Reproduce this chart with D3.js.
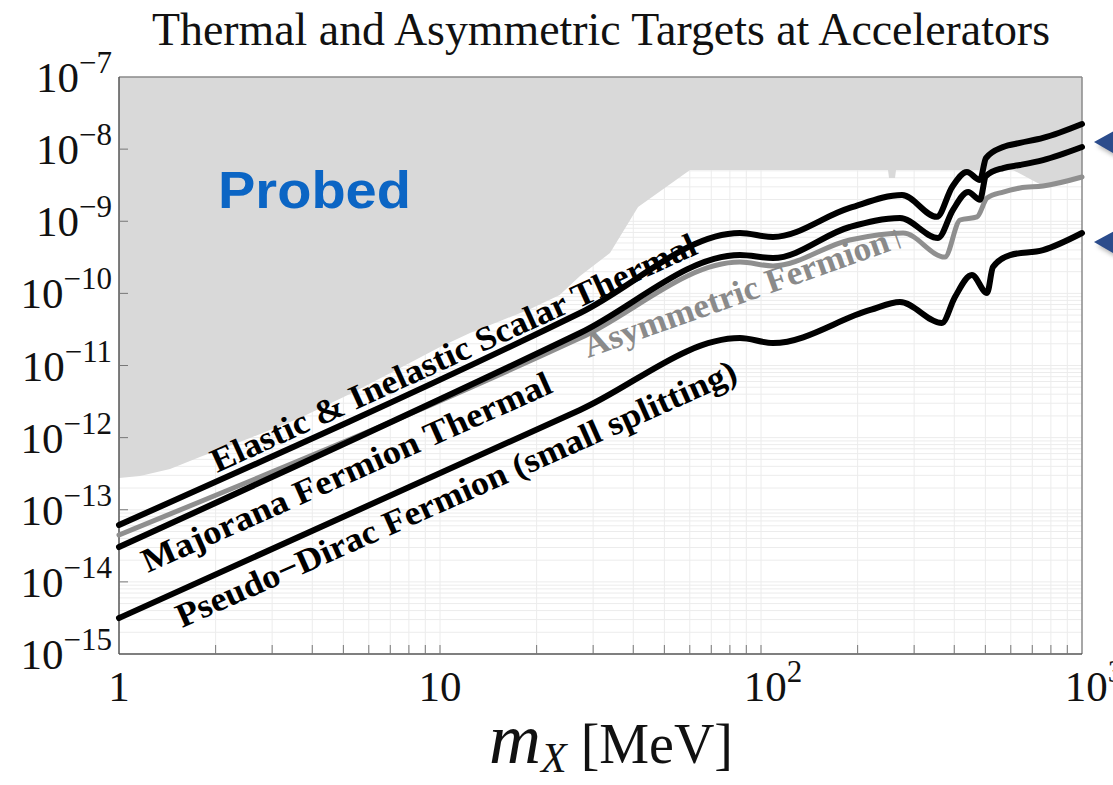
<!DOCTYPE html>
<html><head><meta charset="utf-8">
<script src="https://cdn.jsdelivr.net/npm/d3@7"></script>
<style>body{margin:0;background:#fff}svg{display:block}</style>
</head><body>
<svg id="c" width="1113" height="785"></svg>
<script>
// ---------- data ----------
const title = "Thermal and Asymmetric Targets at Accelerators";
const xTickValues = [1, 10, 100, 1000];
const xTickBase = ["1", "10", "10", "10"];
const xTickSup = ["", "", "2", "3"];
const yTickExps = [-7, -8, -9, -10, -11, -12, -13, -14, -15];

const scalarMass = [1, 27.3, 86, 109, 189, 275, 353, 394, 438, 481, 502, 568, 641, 756, 1000];
const scalarThermal = [6.15e-14, 5.35e-11, 6.87e-10, 6.05e-10, 1.53e-9, 2.31e-9, 1.15e-9, 2.99e-9, 4.82e-9, 3.73e-9, 7.5e-9, 1.07e-8, 1.22e-8, 1.43e-8, 2.23e-8];

const majoranaMass = [1, 27.3, 86, 109, 189, 271, 356, 396, 442, 481, 502, 568, 641, 756, 1000];
const majoranaThermal = [3.04e-14, 2.82e-11, 3.40e-10, 3.09e-10, 8.32e-10, 1.11e-9, 5.86e-10, 1.43e-9, 2.54e-9, 1.99e-9, 4.24e-9, 5.47e-9, 6.03e-9, 7.06e-9, 1.07e-8];

const asymMass = [1, 27.3, 86, 109, 189, 277, 374, 417, 471, 506, 568, 641, 756, 1000];
const asymFermion = [4.47e-14, 2.40e-11, 2.72e-10, 2.40e-10, 5.50e-10, 6.87e-10, 3.19e-10, 1.04e-9, 1.15e-9, 2.10e-9, 2.54e-9, 2.89e-9, 3.08e-9, 4.11e-9];

const pdMass = [1, 27.3, 86, 109, 219, 271, 366, 402, 454, 506, 528, 597, 756, 1000];
const pseudoDirac = [3.15e-15, 2.42e-12, 2.40e-11, 2.05e-11, 5.89e-11, 7.59e-11, 3.88e-11, 8.91e-11, 1.80e-10, 1.01e-10, 2.32e-10, 3.40e-10, 3.99e-10, 6.87e-10];

const probedMass = [1, 1, 1.163, 1.442, 1.787, 2.56, 3.66, 5.24, 7.51, 10.0, 12.4, 15.4, 19.1, 23.6, 27.3, 33.85, 41.4, 60.1, 248.7, 250.5, 261.5, 263.4, 609.5, 766.9, 1000, 1000];
const probedLimit = [1e-7, 2.75e-13, 2.94e-13, 3.67e-13, 5.38e-13, 9.89e-13, 1.87e-12, 4.03e-12, 9.22e-12, 1.81e-11, 2.82e-11, 4.14e-11, 6.07e-11, 9.51e-11, 1.74e-10, 3.63e-10, 1.58e-9, 5.14e-9, 5.14e-9, 3.98e-9, 3.98e-9, 5.14e-9, 5.14e-9, 2.99e-9, 4.11e-9, 1e-7];

// ---------- layout ----------
const svg = d3.select("#c");
const M = {l: 119, t: 77, r: 1082, b: 654};
const x = d3.scaleLog().domain([1, 1000]).range([M.l, M.r]);
const y = d3.scaleLog().domain([1e-15, 1e-7]).range([M.b, M.t]);
const serif = "'Liberation Serif','Times New Roman',serif";

svg.append("rect").attr("width", 1113).attr("height", 785).attr("fill", "#fff");

// grid
const grid = svg.append("g");
const xMinor = [], yMinor = [];
for (let e = 0; e < 3; e++) for (let k = 1; k <= 9; k++) xMinor.push(k * Math.pow(10, e));
for (let e = -15; e < -7; e++) for (let k = 1; k <= 9; k++) yMinor.push(k * Math.pow(10, e));
grid.selectAll(".gx").data(xMinor.filter(v => v > 1)).enter().append("line")
  .attr("x1", d => x(d)).attr("x2", d => x(d)).attr("y1", M.t).attr("y2", M.b)
  .attr("stroke", "#ececec").attr("stroke-width", 1);
grid.selectAll(".gy").data(yMinor.filter(v => v > 1e-15)).enter().append("line")
  .attr("y1", d => y(d)).attr("y2", d => y(d)).attr("x1", M.l).attr("x2", M.r)
  .attr("stroke", "#ececec").attr("stroke-width", 1);

// probed region
const probed = probedMass.map((m, i) => [m, probedLimit[i]]);
svg.append("path").datum(probed)
  .attr("d", d3.line().x(d => x(d[0])).y(d => y(d[1])))
  .attr("fill", "#d9d9d9").attr("stroke", "none");

// frame
svg.append("line").attr("x1", M.l).attr("x2", M.r).attr("y1", M.t).attr("y2", M.t).attr("stroke", "#8a8a8a").attr("stroke-width", 1.5);
svg.append("line").attr("x1", M.r).attr("x2", M.r).attr("y1", M.t).attr("y2", M.b).attr("stroke", "#8a8a8a").attr("stroke-width", 1.5);
svg.append("line").attr("x1", M.l).attr("x2", M.l).attr("y1", M.t).attr("y2", M.b).attr("stroke", "#555").attr("stroke-width", 1.5);
svg.append("line").attr("x1", M.l).attr("x2", M.r).attr("y1", M.b).attr("y2", M.b).attr("stroke", "#555").attr("stroke-width", 1.5);

// ticks
svg.selectAll(".tx").data(xMinor.filter(v => v > 1)).enter().append("line")
  .attr("x1", d => x(d)).attr("x2", d => x(d)).attr("y1", M.b).attr("y2", M.b - 9)
  .attr("stroke", "#777").attr("stroke-width", 1);
svg.selectAll(".ty").data(yTickExps.slice(1, -1)).enter().append("line")
  .attr("x1", M.l).attr("x2", M.l + 9).attr("y1", d => y(Math.pow(10, d))).attr("y2", d => y(Math.pow(10, d)))
  .attr("stroke", "#777").attr("stroke-width", 1);

// y tick labels
const yl = svg.selectAll(".yl").data(yTickExps).enter().append("text")
  .attr("x", 112).attr("y", d => y(Math.pow(10, d)) + 15)
  .attr("text-anchor", "end").attr("font-family", serif).attr("fill", "#111");
yl.append("tspan").attr("font-size", 43).text("10");
yl.append("tspan").attr("font-size", 31).attr("dy", -19).text(d => "\u2212" + (-d));

// x tick labels
const xl = svg.selectAll(".xl").data(xTickValues).enter().append("text")
  .attr("x", (d, i) => x(d) + (xTickSup[i] ? 12 : 0)).attr("y", 701)
  .attr("text-anchor", "middle").attr("font-family", serif).attr("fill", "#111");
xl.append("tspan").attr("font-size", 43).text((d, i) => xTickBase[i]);
xl.append("tspan").attr("font-size", 31).attr("dy", -19).text((d, i) => xTickSup[i]);

// x axis title
const xt = svg.append("text").attr("x", 611).attr("y", 763).attr("text-anchor", "middle").attr("font-family", serif).attr("fill", "#111");
xt.append("tspan").attr("font-style", "italic").attr("font-size", 72).text("m");
xt.append("tspan").attr("font-style", "italic").attr("font-size", 42).attr("dy", 9).text("X");
xt.append("tspan").attr("font-size", 56).attr("dy", -9).attr("dx", 14).text("[MeV]");

// title
svg.append("text").attr("x", 601).attr("y", 45).attr("text-anchor", "middle")
  .attr("font-family", serif).attr("font-size", 46).attr("fill", "#111")
  .attr("textLength", 898).attr("lengthAdjust", "spacingAndGlyphs").text(title);

// curves
const line = d3.line().x(d => x(d[0])).y(d => y(d[1])).curve(d3.curveMonotoneX);
const series = [
  {m: asymMass, v: asymFermion, c: "#8f8f8f", w: 5},
  {m: pdMass, v: pseudoDirac, c: "#000", w: 6},
  {m: majoranaMass, v: majoranaThermal, c: "#000", w: 6},
  {m: scalarMass, v: scalarThermal, c: "#000", w: 6}
];
series.forEach(s => {
  svg.append("path").datum(s.m.map((m, i) => [m, s.v[i]]))
    .attr("d", line).attr("fill", "none").attr("stroke", s.c).attr("stroke-width", s.w)
    .attr("stroke-linejoin", "round").attr("stroke-linecap", "round");
});

// curve labels
function label(txt, m, v, ang, len, fill, size) {
  svg.append("text").attr("transform", `translate(${x(m)},${y(v)}) rotate(${-ang})`)
    .attr("font-family", serif).attr("font-weight", "bold").attr("font-size", size)
    .attr("fill", fill).attr("textLength", len).attr("lengthAdjust", "spacingAndGlyphs").text(txt);
}
label("Elastic & Inelastic Scalar Thermal", 2.02, 3.23e-13, 24.5, 530, "#000", 34);
label("Majorana Fermion Thermal", 1.23, 1.33e-14, 24, 445, "#000", 34);
label("Pseudo\u2212Dirac Fermion (small splitting)", 1.57, 2.29e-15, 24, 610, "#000", 34);
label("Asymmetric Fermion\u2191", 28.9, 1.27e-11, 19.5, 340, "#8a8a8a", 34);

// Probed
svg.append("text").attr("x", 218).attr("y", 208).attr("font-family", "'Liberation Sans',Arial,sans-serif")
  .attr("font-weight", "bold").attr("font-size", 52).attr("fill", "#0b65c4")
  .attr("textLength", 193).attr("lengthAdjust", "spacingAndGlyphs").text("Probed");

// arrows on the right edge
const defs = svg.append("defs");
defs.append("filter").attr("id", "sh").attr("x", "-50%").attr("y", "-50%").attr("width", "200%").attr("height", "200%")
  .append("feGaussianBlur").attr("stdDeviation", 2);
[1.26e-8, 5.15e-10].forEach(v => {
  const yc = y(v);
  const pts = [[1094, yc], [1118, yc - 13], [1118, yc + 14]];
  svg.append("polygon").attr("points", pts.map(p => [p[0] + 3, p[1] + 4].join(",")).join(" "))
    .attr("fill", "#888").attr("opacity", 0.6).attr("filter", "url(#sh)");
  svg.append("polygon").attr("points", pts.map(p => p.join(",")).join(" ")).attr("fill", "#2b4c8c");
});
</script>
</body></html>
